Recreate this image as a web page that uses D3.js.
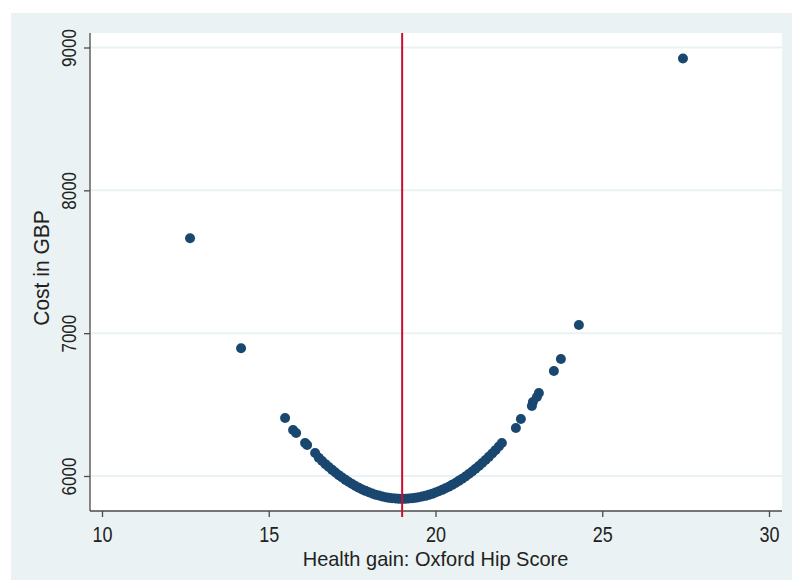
<!DOCTYPE html>
<html>
<head>
<meta charset="utf-8">
<script src="https://cdn.jsdelivr.net/npm/d3@7"></script>
<style>
  html, body { margin: 0; padding: 0; background: #ffffff; }
  svg { display: block; }
  text { font-family: "Liberation Sans", Arial, sans-serif; fill: #222; }
</style>
</head>
<body>
<svg id="chart" width="792" height="580"></svg>
<script>
// ---- Data ----
const healthGain = [
  12.64, 14.17, 15.49, 15.73, 15.82, 16.09, 16.15, 16.39,
  16.5, 16.6, 16.7, 16.8, 16.9, 17.0, 17.1, 17.2, 17.3, 17.4, 17.5, 17.6, 17.7, 17.8, 17.9,
  18.0, 18.1, 18.2, 18.3, 18.4, 18.5, 18.6, 18.7, 18.8, 18.9, 19.0,
  19.1, 19.2, 19.3, 19.4, 19.5, 19.6, 19.7, 19.8, 19.9, 20.0,
  20.1, 20.2, 20.3, 20.4, 20.5, 20.6, 20.7, 20.8, 20.9, 21.0,
  21.1, 21.2, 21.3, 21.4, 21.5, 21.6, 21.7, 21.8, 21.9,
  21.99, 22.41, 22.56, 22.89, 22.92, 23.04, 23.10, 23.55, 23.76, 24.30, 27.42
];
const costGBP = [
  7664, 6895, 6406, 6322, 6301, 6231, 6217, 6161,
  6128, 6105, 6083, 6063, 6043, 6024, 6006, 5989, 5973, 5958, 5944, 5930, 5918, 5906, 5896,
  5886, 5877, 5869, 5863, 5857, 5852, 5847, 5844, 5842, 5840, 5840,
  5840, 5842, 5844, 5847, 5851, 5856, 5861, 5868, 5875, 5884,
  5893, 5903, 5914, 5925, 5938, 5951, 5966, 5981, 5997, 6014,
  6032, 6051, 6070, 6091, 6112, 6134, 6157, 6181, 6206,
  6231, 6336, 6399, 6490, 6518, 6553, 6581, 6735, 6819, 7057, 8923
];
const xTicks = [10, 15, 20, 25, 30];
const yTicks = [6000, 7000, 8000, 9000];
const referenceLine = [19];
const xLabel = "Health gain: Oxford Hip Score";
const yLabel = "Cost in GBP";

// ---- Layout ----
const W = 792, H = 580;
const plot = { left: 90, right: 782, top: 33, bottom: 511 };
const svg = d3.select("#chart");

const x = d3.scaleLinear().domain([10, 30]).range([102, 769]);
const y = d3.scaleLinear().domain([6000, 9000]).range([476, 47.5]);

// outer graph background
svg.append("rect").attr("x", 11).attr("y", 13).attr("width", W - 11).attr("height", H - 13)
  .attr("fill", "#eaf2f3");
// plot region
svg.append("rect").attr("x", plot.left).attr("y", plot.top)
  .attr("width", plot.right - plot.left).attr("height", plot.bottom - plot.top)
  .attr("fill", "#ffffff");

// grid lines
svg.append("g").selectAll("line").data(yTicks).join("line")
  .attr("x1", plot.left).attr("x2", plot.right)
  .attr("y1", d => y(d)).attr("y2", d => y(d))
  .attr("stroke", "#eaf2f3").attr("stroke-width", 2);

// axes
const yAxis = d3.axisLeft(y).tickValues(yTicks).tickSize(6).tickFormat(d3.format("d"));
const gy = svg.append("g").attr("transform", `translate(${plot.left},0)`).call(yAxis);
gy.select(".domain").attr("d", `M0,${plot.top}V${plot.bottom}`);
gy.selectAll("line, path").attr("stroke", "#4a4a4a").attr("stroke-width", 1.3);
gy.selectAll(".tick text").remove();
gy.selectAll(".tick").append("text")
  .attr("transform", "translate(-14,0) rotate(-90) scale(1,1.15)")
  .attr("text-anchor", "middle")
  .attr("fill", "#222")
  .style("font-size", "17px")
  .text(d => d3.format("d")(d));

const xAxis = d3.axisBottom(x).tickValues(xTicks).tickSize(6);
const gx = svg.append("g").attr("transform", `translate(0,${plot.bottom})`).call(xAxis);
gx.select(".domain").attr("d", `M${plot.left},0H${plot.right}`);
gx.selectAll("line, path").attr("stroke", "#4a4a4a").attr("stroke-width", 1.3);
gx.selectAll(".tick text").remove();
gx.selectAll(".tick").append("text")
  .attr("transform", "translate(0,30.5) scale(1,1.2)")
  .attr("text-anchor", "middle")
  .attr("fill", "#222")
  .style("font-size", "18px")
  .text(d => d);

// axis titles
svg.append("text")
  .attr("transform", `translate(${(x(10) + x(30)) / 2},566) scale(1,1.03)`)
  .attr("text-anchor", "middle").attr("fill", "#2a2a2a").style("font-size", "20px")
  .text(xLabel);
svg.append("text")
  .attr("transform", `translate(49,268) rotate(-90) scale(1,1.05)`)
  .attr("text-anchor", "middle").attr("fill", "#2a2a2a").style("font-size", "21px")
  .text(yLabel);

// points
const pts = healthGain.map((v, i) => ({ gain: v, cost: costGBP[i] }));
svg.append("g").selectAll("circle").data(pts).join("circle")
  .attr("cx", d => x(d.gain)).attr("cy", d => y(d.cost))
  .attr("r", 5).attr("fill", "#1a476f");

// reference line
svg.append("g").selectAll("line").data(referenceLine).join("line")
  .attr("x1", d => x(d)).attr("x2", d => x(d))
  .attr("y1", plot.top).attr("y2", plot.bottom + 6)
  .attr("stroke", "#c8102e").attr("stroke-width", 2);
</script>
</body>
</html>
